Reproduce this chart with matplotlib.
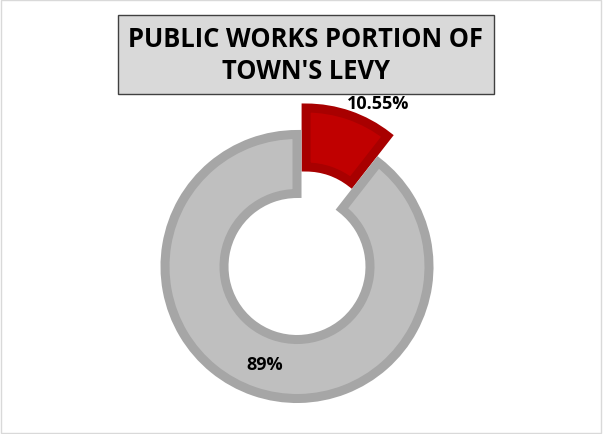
import matplotlib.pyplot as plt
from matplotlib.patches import Rectangle

labels = ['Public Works', 'Rest of Levy']
shares = [10.55, 89.45]
label_text = ['10.55%', '89%']
colors = ['#c00000', '#bfbfbf']
edges = ['#a80000', '#a6a6a6']

plt.rcParams['font.family'] = ['Open Sans', 'DejaVu Sans']

fig = plt.figure(figsize=(6.03, 4.35), dpi=100)
ax = fig.add_axes([0, 0, 1, 1])

# chart border
fig.patches.append(Rectangle((0.002, 0.002), 0.995, 0.995, transform=fig.transFigure,
                             fill=False, edgecolor='#d9d9d9', linewidth=1))

# pie works in pixel-like data units here (explode and width are absolute)
wedges, _ = ax.pie(shares, center=(297, 167.5), radius=132, startangle=90, counterclock=False,
                   explode=[28, 0], colors=colors,
                   wedgeprops=dict(width=59, linewidth=6.5))
for w, ec in zip(wedges, edges):
    w.set_edgecolor(ec)

ax.set_xlim(0, 603)
ax.set_ylim(0, 435)
ax.set_aspect('auto')
ax.axis('off')

ax.text(378, 331, label_text[0], ha='center', va='center', fontsize=13, fontweight='bold')
ax.text(265, 70, label_text[1], ha='center', va='center', fontsize=13, fontweight='bold')

ax.text(306, 379.5, "PUBLIC WORKS PORTION OF\nTOWN'S LEVY", ha='center', va='center',
        fontsize=18.4, fontweight='bold', linespacing=1.2,
        bbox=dict(boxstyle='square,pad=0.4', facecolor='#d9d9d9', edgecolor='#404040', linewidth=1))

fig.savefig('out.png', dpi=100)
